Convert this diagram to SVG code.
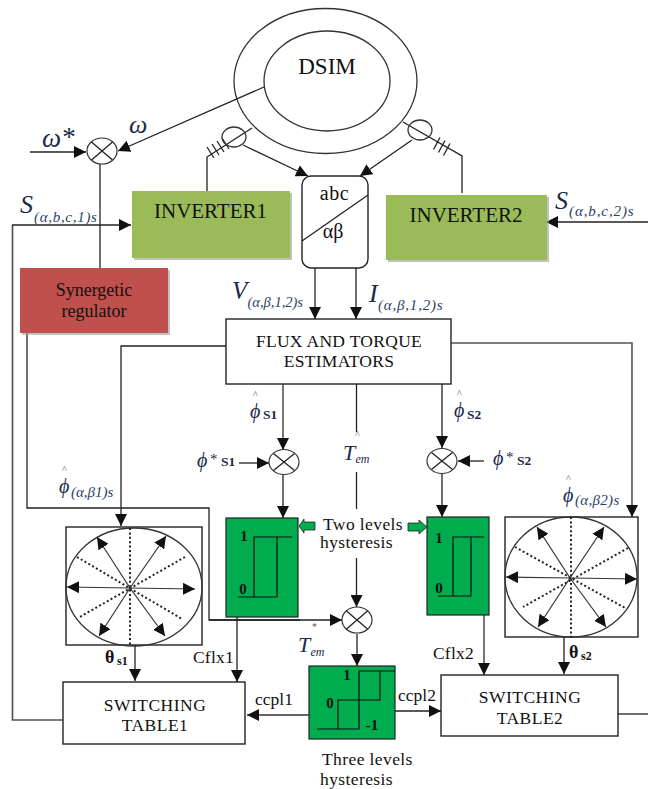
<svg xmlns="http://www.w3.org/2000/svg" width="648" height="789" viewBox="0 0 648 789">
<style>
text{font-family:"Liberation Serif","Times New Roman",serif;fill:#111}
.ln{fill:none;stroke:#222;stroke-width:1.3}
.ar{fill:none;stroke:#222;stroke-width:1.3;marker-end:url(#ah)}
.gr{fill:none;stroke:#555;stroke-width:1.7}
.box{fill:#fff;stroke:#222;stroke-width:1.4}
.sum{fill:#fff;stroke:#333;stroke-width:1.2}
.grn{fill:#00ac4e;stroke:#222;stroke-width:1.2}
.h{fill:none;stroke:#111;stroke-width:1.2}
.dot{fill:none;stroke:#222;stroke-width:2;stroke-dasharray:2 2.4}
.va{fill:none;stroke:#333;stroke-width:1.2;marker-end:url(#ah)}
.shd{fill:#999;opacity:.6}
.m{font-style:italic;fill:#1a2a4a}
.sub{font-style:italic;fill:#2a3f66;font-size:15px}
.t{font-size:17.5px;text-anchor:middle}
.l{font-size:17.5px}
.b{font-weight:bold}
.hat{font-size:10px;fill:#555;font-style:normal}
.s{font-size:13.5px;font-weight:bold;font-style:normal}
</style>
<defs>
<marker id="ah" markerUnits="userSpaceOnUse" markerWidth="13" markerHeight="12" refX="12" refY="6" orient="auto"><path d="M0,0L12,6L0,12Z" fill="#111"/></marker>
</defs>
<rect width="648" height="789" fill="#fff"/>
<g id="DSIM">
<ellipse cx="325.500" cy="81" rx="91.500" ry="72.500" fill="none" stroke="#333" stroke-width="1.300"/>
<ellipse cx="327" cy="81" rx="63" ry="50" fill="none" stroke="#333" stroke-width="1.300"/>
<text x="327" y="74" font-size="23" text-anchor="middle">DSIM</text>
</g>
<g id="connectors">
<path class="ar" d="M264,87L118,151"/>
<path class="ar" d="M30,152H86"/>
<path class="ln" d="M100,164V268"/>
<path class="gr" d="M12.500,225V720H63"/>
<path class="ar" d="M12,225H131"/>
<path class="ln" d="M27,333V508H209V620H300"/>
<path class="ar" d="M209,620H342"/>
<path class="ln" d="M207,191V157L252,128"/>
<path class="ln" d="M207,147L214,158M212,144L219,155M217,141L224,152M222,138L229,149"/>
<path class="ar" d="M243,145L308,176"/>
<path class="ln" d="M403,122L462,156V193"/>
<path class="ln" d="M440,137.500L433.500,149.500M445,140.500L438.500,152.500M450,143.500L443.500,155.500"/>
<path class="ar" d="M412,140L360,176"/>
<path class="ar" d="M648,222H546"/>
<path class="ar" d="M315,268V319"/>
<path class="ar" d="M356,268V319"/>
<path class="ar" d="M226,346H121V526"/>
<path class="ar" d="M451,343H632V517" style="stroke:#555;stroke-width:1.600"/>
<path class="ar" d="M283,384V450" style="stroke:#555;stroke-width:1.600"/>
<path class="ar" d="M239,463H269"/>
<path class="ar" d="M283,475V518"/>
<path class="ar" d="M442,384V448"/>
<path class="ar" d="M484,461H458"/>
<path class="ar" d="M442,474V517"/>
<path class="ln" d="M356.500,384V432M356.500,472V509"/>
<path class="ar" d="M356.500,558V607"/>
<path class="ar" d="M357,634V666"/>
<path class="ar" d="M309,715H247" style="stroke:#666;stroke-width:1.800"/>
<path class="ar" d="M395,711H441"/>
<path class="ln" d="M618,714H648"/>
<path class="ar" d="M237,617V682"/>
<path class="ar" d="M484,615V675" style="stroke:#666;stroke-width:1.800"/>
<path class="ar" d="M135,645V681"/>
<path class="ar" d="M564,637V674"/>
</g>
<g id="sum1"><ellipse class="sum" cx="102" cy="151" rx="15" ry="13"/><path class="ln" d="M91.500,142L112.500,160M91.500,160L112.500,142"/></g>
<g id="sum2"><ellipse class="sum" cx="284" cy="462" rx="15" ry="12.500"/><path class="ln" d="M273.500,453.500L294.500,470.500M273.500,470.500L294.500,453.500"/></g>
<g id="sum3"><ellipse class="sum" cx="442" cy="461" rx="15" ry="12.500"/><path class="ln" d="M431.500,452.500L452.500,469.500M431.500,469.500L452.500,452.500"/></g>
<g id="sum4"><ellipse class="sum" cx="357" cy="620" rx="15" ry="13"/><path class="ln" d="M346.500,611L367.500,629M346.500,629L367.500,611"/></g>
<g id="sensor1"><ellipse cx="234" cy="137" rx="12" ry="10" fill="none" stroke="#333" stroke-width="1.300"/></g>
<g id="sensor2"><ellipse cx="420" cy="130" rx="12" ry="10" fill="none" stroke="#333" stroke-width="1.300"/></g>
<g id="inverter1">
<rect class="shd" x="134" y="193" width="158" height="67"/>
<rect x="132" y="191" width="158" height="67" fill="#9bbb59"/>
<text x="210.500" y="218" font-size="21" text-anchor="middle">INVERTER1</text>
</g>
<g id="inverter2">
<rect class="shd" x="388" y="197" width="161" height="65"/>
<rect x="386" y="195" width="161" height="65" fill="#9bbb59"/>
<text x="466" y="222" font-size="21" text-anchor="middle">INVERTER2</text>
</g>
<g id="regulator">
<rect class="shd" x="22" y="270" width="148" height="65"/>
<rect x="20" y="268" width="148" height="65" fill="#c0504d"/>
<text x="94" y="296" class="t" style="font-size:18px">Synergetic</text>
<text x="94" y="317" class="t" style="font-size:18px">regulator</text>
</g>
<g id="abc">
<rect x="302" y="176" width="66" height="92" rx="9" class="box"/>
<path class="ln" d="M302,241L368,195"/>
<text x="334.500" y="200" font-size="20" text-anchor="middle" letter-spacing=".5">abc</text>
<text x="333" y="238" font-size="20" text-anchor="middle">αβ</text>
</g>
<g id="estimators">
<rect x="226" y="319" width="225" height="65" class="box"/>
<text x="339" y="347" class="t" letter-spacing=".3">FLUX AND TORQUE</text>
<text x="339" y="367" class="t" letter-spacing=".3">ESTIMATORS</text>
</g>
<g id="hyst1">
<rect class="grn" x="226" y="518" width="72" height="99"/>
<path class="h" d="M292,537H254V597M277,537V597M238,597H277"/>
<text x="244" y="541" font-size="15" text-anchor="middle" class="b">1</text>
<text x="243" y="594" font-size="15" text-anchor="middle" class="b">0</text>
</g>
<g id="hyst2">
<rect class="grn" x="427" y="517" width="62" height="98"/>
<path class="h" d="M484,537H453V596M471,537V596M438,596H471"/>
<text x="439" y="543" font-size="15" text-anchor="middle" class="b">1</text>
<text x="439" y="593" font-size="15" text-anchor="middle" class="b">0</text>
</g>
<g id="hyst3">
<rect class="grn" x="309" y="666" width="86" height="73"/>
<path class="h" d="M317,729H359V671H395M338,729V700H380V671"/>
<text x="347" y="680" font-size="15" text-anchor="middle" class="b">1</text>
<text x="330" y="708" font-size="15" text-anchor="middle" class="b">0</text>
<text x="372" y="730" font-size="15" text-anchor="middle" class="b">-1</text>
</g>
<g id="tabs">
<path d="M315,522H304V519L299,526L304,533V530H315Z" fill="#00ac4e" stroke="#222" stroke-width=".8"/>
<path d="M408,523H419V520L427,527L419,534V531H408Z" fill="#00ac4e" stroke="#222" stroke-width=".8"/>
</g>
<g id="vectors1">
<rect class="box" x="66" y="527" width="136" height="118"/>
<ellipse cx="134" cy="587" rx="68" ry="59" fill="none" stroke="#333" stroke-width="1.300"/>
<path class="dot" d="M130,528V645M77,557L182,619M185,557L78,618"/>
<path class="va" d="M130,588L67,587"/><path class="va" d="M130,588L195,589"/>
<path class="va" d="M130,588L97,537"/><path class="va" d="M130,588L166,536"/>
<path class="va" d="M130,588L99,636"/><path class="va" d="M130,588L165,636"/>
</g>
<g id="vectors2">
<rect class="box" x="505" y="517" width="133" height="120"/>
<ellipse cx="571" cy="577" rx="66" ry="60" fill="none" stroke="#333" stroke-width="1.300"/>
<path class="dot" d="M571,517V637M515,547L625,608M628,548L523,607"/>
<path class="va" d="M570,578L506,577"/><path class="va" d="M570,578L637,579"/>
<path class="va" d="M570,578L537,527"/><path class="va" d="M570,578L604,527"/>
<path class="va" d="M570,578L538,627"/><path class="va" d="M570,578L606,627"/>
</g>
<g id="table1">
<rect class="box" x="63" y="682" width="182" height="62"/>
<text x="155" y="711" class="t" letter-spacing=".5">SWITCHING</text>
<text x="155" y="731" class="t" letter-spacing=".5">TABLE1</text>
</g>
<g id="table2">
<rect class="box" x="441" y="675" width="177" height="61"/>
<text x="530" y="703" class="t" letter-spacing=".5">SWITCHING</text>
<text x="530" y="724" class="t" letter-spacing=".5">TABLE2</text>
</g>
<g id="labels">
<text class="m" font-size="27"><tspan x="42" y="147">ω</tspan><tspan x="61" y="146">*</tspan></text>
<text x="129" y="133" class="m" font-size="26">ω</text>
<text class="m" font-size="26"><tspan x="20" y="213">S</tspan><tspan x="34" y="222" class="sub" letter-spacing=".7">(α,b,c,1)s</tspan></text>
<text class="m" font-size="26"><tspan x="555" y="209">S</tspan><tspan x="569" y="216" class="sub" letter-spacing=".9">(α,b,c,2)s</tspan></text>
<text class="m" font-size="25"><tspan x="232" y="299">V</tspan><tspan x="247.500" y="307" class="sub" style="font-size:14.500px">(α,β,1,2)s</tspan></text>
<text class="m" font-size="26"><tspan x="369" y="302">I</tspan><tspan x="378" y="310" class="sub" letter-spacing=".8">(α,β,1,2)s</tspan></text>
<text class="m" font-size="20"><tspan x="253" y="397.500" class="hat">^</tspan><tspan x="250" y="418">ϕ</tspan><tspan x="263" y="419" class="s">S1</tspan></text>
<text class="m" font-size="20"><tspan x="457" y="396.500" class="hat">^</tspan><tspan x="454" y="417">ϕ</tspan><tspan x="467" y="419" class="s">S2</tspan></text>
<text class="m" font-size="20"><tspan x="197" y="467">ϕ</tspan><tspan x="210" y="464" style="font-style:normal;font-size:15px">*</tspan><tspan x="221" y="466" class="s">S1</tspan></text>
<text class="m" font-size="20"><tspan x="493" y="465">ϕ</tspan><tspan x="506" y="462" style="font-style:normal;font-size:15px">*</tspan><tspan x="517" y="465" class="s">S2</tspan></text>
<text class="m" font-size="20"><tspan x="62" y="472.500" class="hat">^</tspan><tspan x="59" y="493">ϕ</tspan><tspan x="71" y="497" class="sub">(α,β1)s</tspan></text>
<text class="m" font-size="20"><tspan x="566" y="481.500" class="hat">^</tspan><tspan x="563" y="502">ϕ</tspan><tspan x="575" y="505" class="sub" letter-spacing=".3">(α,β2)s</tspan></text>
<text class="m" font-size="22"><tspan x="355" y="437.500" class="hat">^</tspan><tspan x="343" y="460">T</tspan><tspan x="355.500" y="463" style="font-size:12px">em</tspan></text>
<text class="m" font-size="22"><tspan x="312" y="630" style="font-size:10px;font-style:normal;fill:#555">*</tspan><tspan x="298" y="652">T</tspan><tspan x="310.500" y="656" style="font-size:12px">em</tspan></text>
<text x="323" y="530" class="l" letter-spacing=".4">Two levels</text>
<text x="320" y="548" class="l" letter-spacing=".4">hysteresis</text>
<text x="322" y="765" class="l" letter-spacing=".4">Three levels</text>
<text x="320" y="785" class="l" letter-spacing=".4">hysteresis</text>
<text font-size="18" class="b"><tspan x="105" y="663">θ</tspan><tspan x="117" y="665" font-size="12">s1</tspan></text>
<text font-size="18" class="b"><tspan x="569" y="658">θ</tspan><tspan x="581" y="660" font-size="12">s2</tspan></text>
<text x="193" y="663" class="l" letter-spacing=".2">Cflx1</text>
<text x="433" y="659" class="l" letter-spacing=".2">Cflx2</text>
<text x="255" y="705" class="l">ccpl1</text>
<text x="398" y="701" class="l">ccpl2</text>
</g>
</svg>
